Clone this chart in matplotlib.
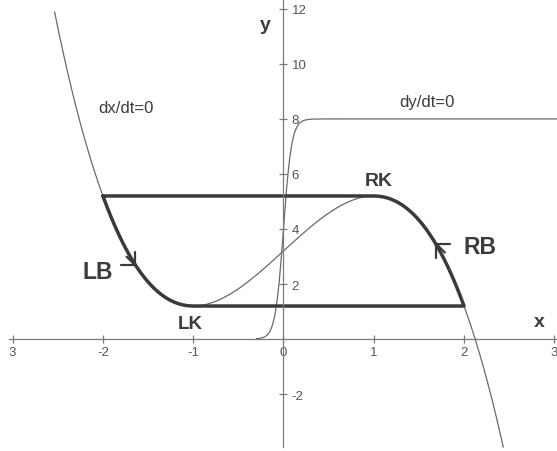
import numpy as np
import matplotlib
matplotlib.use("Agg")
import matplotlib.pyplot as plt

# nullcline dx/dt=0 is a cubic with knees at x = -knee_x / +knee_x
cubic_mid = 3.2
cubic_amp = 2.0
knee_x = 1.0
# nullcline dy/dt=0 is a steep sigmoid
sig_top = 8.0
sig_slope = 22.0
sig_mid = 0.0

x_ticks = [-3, -2, -1, 0, 1, 2, 3]
x_tick_labels = ["3", "-2", "-1", "0", "1", "2", "3"]
y_ticks = [-2, 2, 4, 6, 8, 10, 12]
y_tick_labels = ["-2", "2", "4", "6", "8", "10", "12"]

# points on the branches where the direction arrows sit
arrow_lb_x = -1.63
arrow_rb_x = 1.68


def x_null(x):
    u = x / knee_x
    return cubic_mid + cubic_amp * (3 * u - u ** 3) / 2


def y_null(x):
    return sig_top / (1 + np.exp(-sig_slope * (x - sig_mid)))


plt.rcParams["font.family"] = ["Liberation Sans", "DejaVu Sans"]
plt.rcParams["axes.unicode_minus"] = False

fig = plt.figure(figsize=(5.57, 4.52), dpi=100)
ax = fig.add_axes([0, 0, 1, 1])
ax.set_xlim(-3.14, 3.03)
ax.set_ylim(-4.07, 12.36)

axis_col = "#7a7a7a"
thin_col = "#6a6a6a"
thick_col = "#3a3a3a"
text_col = "#3c3c3c"

# axes through the origin, y labels on the right of the y axis
for side in ["top", "left"]:
    ax.spines[side].set_visible(False)
ax.spines["bottom"].set_position(("data", 0))
ax.spines["right"].set_position(("data", 0))
ax.spines["bottom"].set_bounds(-3.04, 3.03)
ax.spines["right"].set_bounds(-3.93, 12.36)
for side in ["bottom", "right"]:
    ax.spines[side].set_color(axis_col)
    ax.spines[side].set_linewidth(0.9)
ax.xaxis.set_ticks_position("bottom")
ax.yaxis.set_ticks_position("right")
ax.set_xticks(x_ticks, x_tick_labels)
ax.set_yticks(y_ticks, y_tick_labels)
ax.tick_params(direction="inout", length=6, width=0.9, color=axis_col,
               labelsize=9.5, labelcolor="#555555")
ax.tick_params(axis="x", pad=2)
ax.tick_params(axis="y", pad=3)

# thin nullclines
xs = np.linspace(-3, 3, 1200)
ys = x_null(xs)
keep = (ys < 11.9) & (ys > -3.93)
ax.plot(xs[keep], ys[keep], color=thin_col, lw=0.9)

xs2 = np.linspace(-0.3, 3.03, 600)
ax.plot(xs2, y_null(xs2), color=thin_col, lw=0.9)

# relaxation cycle: left branch, jump right, right branch, jump left
y_low = x_null(-knee_x)
y_high = x_null(knee_x)
left_br = np.linspace(-2 * knee_x, -knee_x, 200)
right_br = np.linspace(2 * knee_x, knee_x, 200)
cyc_x = np.concatenate([left_br, [2 * knee_x], right_br, [-2 * knee_x]])
cyc_y = np.concatenate([x_null(left_br), [y_low], x_null(right_br), [y_high]])
ax.plot(cyc_x, cyc_y, color=thick_col, lw=2.5, solid_joinstyle="round",
        solid_capstyle="round")

# direction arrows (open chevrons, arms horizontal and vertical)
head = dict(arrowstyle="->,head_length=0.5,head_width=0.5", color=thick_col,
            lw=1.6, mutation_scale=14, shrinkA=0, shrinkB=0)
ax.annotate("", xy=(arrow_lb_x, x_null(arrow_lb_x)), xytext=(-7, 7),
            textcoords="offset points", arrowprops=head)
ax.annotate("", xy=(arrow_rb_x, x_null(arrow_rb_x)), xytext=(7, -7),
            textcoords="offset points", arrowprops=head)

# labels
ax.text(-2.06, 2.47, "LB", fontsize=16.5, fontweight="bold", color=text_col,
        ha="center", va="center")
ax.text(2.18, 3.38, "RB", fontsize=16.5, fontweight="bold", color=text_col,
        ha="center", va="center")
ax.text(1.06, 5.78, "RK", fontsize=14, fontweight="bold", color=text_col,
        ha="center", va="center")
ax.text(-1.03, 0.58, "LK", fontsize=13.5, fontweight="bold", color=text_col,
        ha="center", va="center")
ax.text(-1.75, 8.4, "dx/dt=0", fontsize=12, color=text_col, ha="center", va="center")
ax.text(1.59, 8.65, "dy/dt=0", fontsize=12, color=text_col, ha="center", va="center")
ax.text(2.83, 0.65, "x", fontsize=14, fontweight="bold", color=text_col,
        ha="center", va="center")
ax.text(-0.2, 11.45, "y", fontsize=14, fontweight="bold", color=text_col,
        ha="center", va="center")

fig.savefig("out.png", dpi=100)
